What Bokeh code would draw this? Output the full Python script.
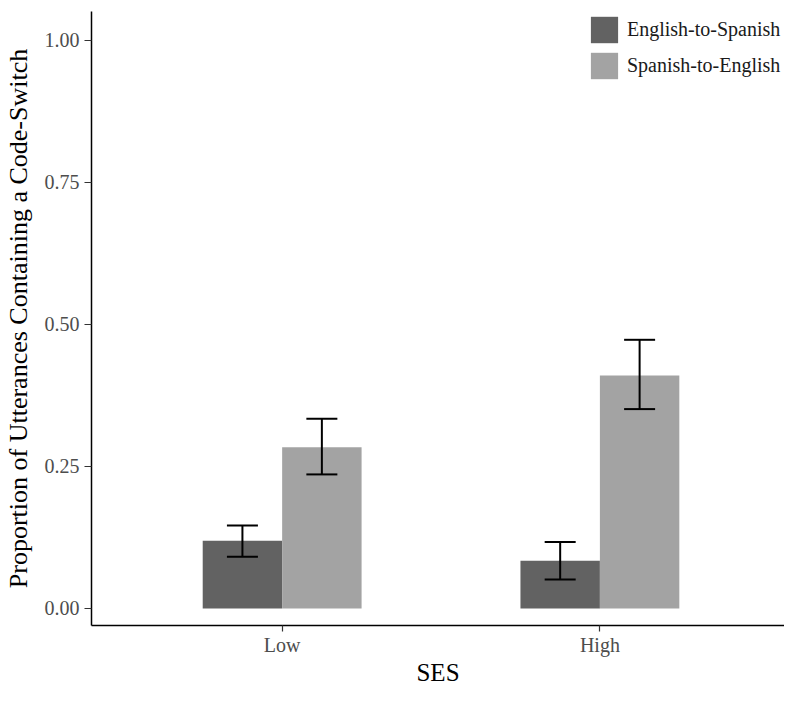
from bokeh.plotting import figure
from bokeh.models import ColumnDataSource, Whisker, TeeHead, FixedTicker, Legend, LegendItem
from bokeh.transform import dodge
from bokeh.embed import file_html
from bokeh.resources import INLINE

ses = ["Low", "High"]
series = ["English-to-Spanish", "Spanish-to-English"]
e2s_mean = [0.119, 0.084]
e2s_lower = [0.091, 0.051]
e2s_upper = [0.146, 0.117]
s2e_mean = [0.284, 0.410]
s2e_lower = [0.236, 0.351]
s2e_upper = [0.334, 0.473]
y_ticks = [0.0, 0.25, 0.5, 0.75, 1.0]
y_labels = ["0.00", "0.25", "0.50", "0.75", "1.00"]

colors = ["#626262", "#a3a3a3"]
FONT = "Liberation Serif"

x_pos = [i + 1 for i in range(len(ses))]

p = figure(x_range=(0.4, 2.581), y_range=(-0.030, 1.051), width=784, height=688,
           output_backend="svg", toolbar_location=None,
           min_border_left=90, min_border_right=0, min_border_top=11, min_border_bottom=62)

src_e = ColumnDataSource(dict(x=x_pos, mean=e2s_mean, lower=e2s_lower, upper=e2s_upper))
src_s = ColumnDataSource(dict(x=x_pos, mean=s2e_mean, lower=s2e_lower, upper=s2e_upper))

r1 = p.vbar(x=dodge("x", -0.125), top="mean", bottom=0, width=0.25,
            source=src_e, fill_color=colors[0], line_color=None)
r2 = p.vbar(x=dodge("x", 0.125), top="mean", bottom=0, width=0.25,
            source=src_s, fill_color=colors[1], line_color=None)

for src, off in ((src_e, -0.125), (src_s, 0.125)):
    w = Whisker(base=dodge("x", off), upper="upper", lower="lower",
                source=src, line_width=2, line_color="black", level="overlay",
                upper_head=TeeHead(size=31, line_width=2, line_color="black"),
                lower_head=TeeHead(size=31, line_width=2, line_color="black"))
    p.add_layout(w)

legend = Legend(items=[LegendItem(label=series[0], renderers=[r1]),
                       LegendItem(label=series[1], renderers=[r2])],
                location=(496, 543), padding=0, margin=0, spacing=3,
                glyph_width=34, glyph_height=33, label_height=33, label_standoff=6,
                label_text_font=FONT, label_text_font_size="20px", label_text_color="#1a1a1a",
                background_fill_alpha=0, border_line_color=None)
p.add_layout(legend)

p.xgrid.grid_line_color = None
p.ygrid.grid_line_color = None
p.outline_line_color = None

p.xaxis.ticker = FixedTicker(ticks=x_pos)
p.xaxis.major_label_overrides = {x: s for x, s in zip(x_pos, ses)}
p.xaxis.minor_tick_line_color = None
p.yaxis.ticker = FixedTicker(ticks=y_ticks)
p.yaxis.major_label_overrides = {t: l for t, l in zip(y_ticks, y_labels)}
p.yaxis.minor_tick_line_color = None
p.yaxis.axis_label = "Proportion of Utterances Containing a Code-Switch"
p.xaxis.axis_label = "SES"

for ax in (p.xaxis, p.yaxis):
    ax.axis_line_color = "black"
    ax.axis_line_width = 1.5
    ax.major_tick_line_color = "#333333"
    ax.major_tick_line_width = 1.2
    ax.major_tick_in = 0
    ax.major_label_text_font = FONT
    ax.major_label_text_font_size = "20px"
    ax.major_label_text_color = "#4d4d4d"
    ax.axis_label_text_font = FONT
    ax.axis_label_text_font_style = "normal"
    ax.axis_label_text_color = "black"
p.xaxis.axis_label_text_font_size = "25px"
p.yaxis.axis_label_text_font_size = "26px"
p.xaxis.major_tick_out = 6
p.yaxis.major_tick_out = 7
p.xaxis.major_label_standoff = 2
p.xaxis.axis_label_standoff = 0
p.yaxis.major_label_standoff = 5
p.yaxis.axis_label_standoff = 9

open("out.html", "w").write(file_html(p, INLINE))
